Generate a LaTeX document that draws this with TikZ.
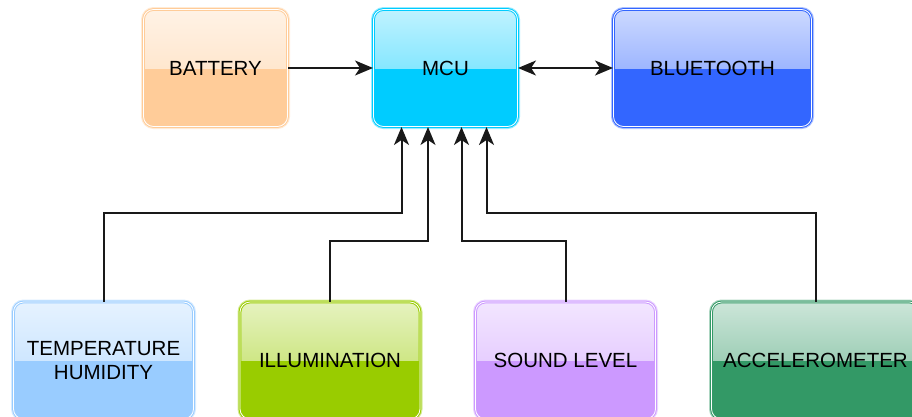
\documentclass[tikz,border=0pt]{standalone}
\usepackage{fontspec}
\setmainfont{Liberation Sans}
\usetikzlibrary{arrows.meta}
\definecolor{cBat}{HTML}{FFCC99}
\definecolor{cMcu}{HTML}{00CCFF}
\definecolor{cBlu}{HTML}{3366FF}
\definecolor{cTem}{HTML}{99CCFF}
\definecolor{cIll}{HTML}{99CC00}
\definecolor{cSnd}{HTML}{CC99FF}
\definecolor{cAcc}{HTML}{339966}
\tikzset{
  glassbox/.style={rectangle, rounded corners=10pt, fill=#1,
    preaction={draw=#1!40!white, line width=5pt, rounded corners=10pt},
    draw=#1, double=white, double distance=0.8pt, line width=1pt,
    path picture={\shade[sharp corners, top color=#1!25!white, bottom color=#1!70!white]
      (path picture bounding box.north west) rectangle (path picture bounding box.east);},
    text=black, align=center, font=\fontsize{20.5}{24.5}\selectfont,
    minimum height=117pt, inner sep=0pt},
  arr/.style={draw=black!90, line width=2pt, -{Stealth[length=18pt,width=15pt,inset=5pt]}},
  barr/.style={draw=black!90, line width=2pt, {Stealth[length=18pt,width=15pt,inset=5pt]}-{Stealth[length=18pt,width=15pt,inset=5pt]}}
}
\begin{document}
\begin{tikzpicture}[x=1pt,y=-1pt]
\useasboundingbox (0,0) rectangle (912,416);
\node[glassbox=cBat, minimum width=144pt] (bat) at (215.5,68) {BATTERY};
\node[glassbox=cMcu, minimum width=144pt] (mcu) at (445.5,68) {MCU};
\node[glassbox=cBlu, minimum width=198pt] (blu) at (712.5,68) {BLUETOOTH};
\node[glassbox=cTem, minimum width=180pt] (tem) at (103.5,360.5) {TEMPERATURE\\HUMIDITY};
\node[glassbox=cIll, minimum width=180pt] (ill) at (330,360.5) {ILLUMINATION};
\node[glassbox=cSnd, minimum width=180pt] (snd) at (565.5,360.5) {SOUND LEVEL};
\node[glassbox=cAcc, minimum width=208pt] (acc) at (815.5,360.5) {ACCELEROMETER};
\draw[arr] (bat.east) -- (mcu.west);
\draw[barr] (mcu.east) -- (blu.west);
\draw[arr] (tem.north) -- ++(0,-88.5) -| ([xshift=-44pt]mcu.south);
\draw[arr] (ill.north) -- ++(0,-60.5) -| ([xshift=-17.5pt]mcu.south);
\draw[arr] (snd.north) -- ++(0,-60.5) -| ([xshift=16pt]mcu.south);
\draw[arr] (acc.north) -- ++(0,-88.5) -| ([xshift=41pt]mcu.south);
\end{tikzpicture}
\end{document}
